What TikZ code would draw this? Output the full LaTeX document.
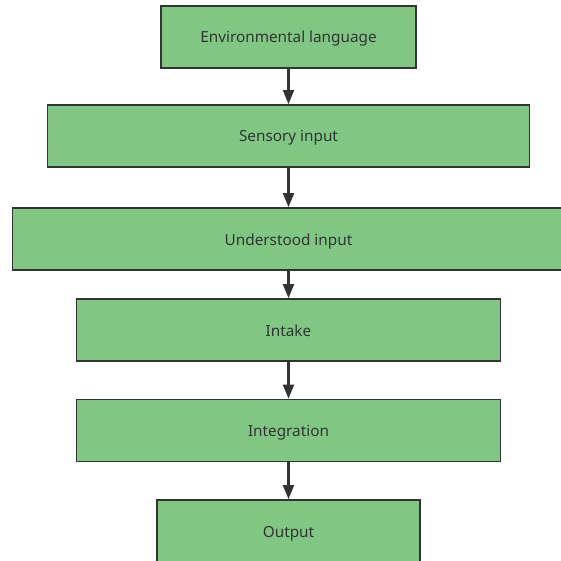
\documentclass[tikz,border=0pt]{standalone}
\usepackage{fontspec}
\setmainfont{Noto Sans}
\usetikzlibrary{arrows.meta}
\definecolor{boxgreen}{RGB}{128,199,131}
\definecolor{edge}{RGB}{51,51,51}
\begin{document}
\begin{tikzpicture}[x=1pt,y=-1pt,
  stagebox/.style={draw=edge, line width=1.8pt, fill=boxgreen, minimum height=62pt, inner sep=0pt, text height=14pt, text depth=2pt, font=\fontsize{15.3}{18}\selectfont, text=edge},
  flow/.style={draw=edge, line width=2.2pt, -{Triangle[length=14pt,width=11pt]}}]
\useasboundingbox (0,0) rectangle (561,561);
\clip (0,0) rectangle (561,561);
\node[stagebox, minimum width=255pt] (env) at (288.5,37) {Environmental language};
\node[stagebox, minimum width=482pt] (sens) at (288.5,136) {Sensory input};
\node[stagebox, minimum width=552pt] (und) at (288.5,239) {Understood input};
\node[stagebox, minimum width=424pt] (intake) at (288.5,330) {Intake};
\node[stagebox, minimum width=424pt] (integ) at (288.5,430.5) {Integration};
\node[stagebox, minimum width=263pt] (out) at (288.5,531) {Output};
\draw[flow] (env.south) -- (env.south |- sens.north);
\draw[flow] (sens.south) -- (sens.south |- und.north);
\draw[flow] (und.south) -- (und.south |- intake.north);
\draw[flow] (intake.south) -- (intake.south |- integ.north);
\draw[flow] (integ.south) -- (integ.south |- out.north);
\end{tikzpicture}
\end{document}
